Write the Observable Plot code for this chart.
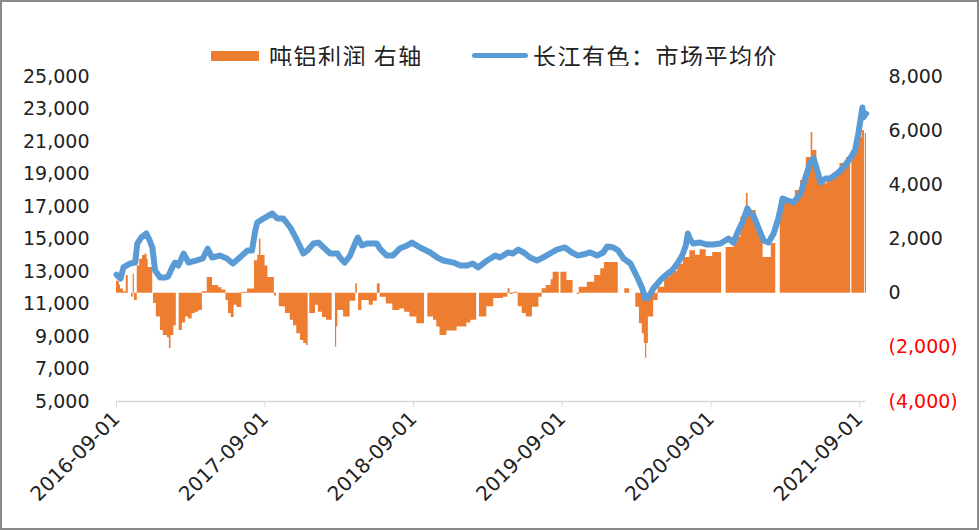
<!DOCTYPE html>
<html><head><meta charset="utf-8">
<script src="https://cdn.jsdelivr.net/npm/d3@7"></script>
<script src="https://cdn.jsdelivr.net/npm/@observablehq/plot@0.6"></script>
<style>
body{margin:0;background:#fff;}
#wrap{position:relative;width:979px;height:530px;overflow:hidden;background:#fff;}
#legend{position:absolute;left:0;top:0;width:979px;height:66px;}
.sw{position:absolute;}
.lt{position:absolute;font-family:"Noto Sans CJK SC",sans-serif;font-size:23px;line-height:23px;letter-spacing:1.5px;color:#222;white-space:nowrap;}
#chart{position:absolute;left:0;top:66px;}
#frame{position:absolute;left:0;top:0;width:979px;height:530px;box-sizing:border-box;border:2px solid #8a8a8a;pointer-events:none;}
</style></head>
<body>
<div id="wrap">
  <div id="legend"></div>
  <div id="chart"></div>
  <div id="frame"></div>
</div>
<script>
// ---- data ----
const seriesNames = ["吨铝利润 右轴", "长江有色：市场平均价"];
const seriesColors = ["#ED7D31", "#5B9BD5"];

const priceDates = ["2016-09-01","2016-09-11","2016-09-18","2016-10-05","2016-10-17","2016-10-22","2016-11-01","2016-11-13","2016-11-20","2016-11-28","2016-12-05","2016-12-17","2016-12-30",
"2017-01-06","2017-01-16","2017-01-23","2017-01-31","2017-02-13","2017-02-25","2017-03-17","2017-04-01","2017-04-13","2017-04-24","2017-05-13","2017-05-30","2017-06-14","2017-07-01","2017-07-20","2017-07-31","2017-08-08","2017-08-13","2017-08-28","2017-09-19","2017-10-01","2017-10-16","2017-11-02","2017-11-19","2017-12-04","2017-12-14","2017-12-29",
"2018-01-10","2018-01-23","2018-02-08","2018-02-26","2018-03-04","2018-03-16","2018-03-29","2018-04-10","2018-04-17","2018-04-27","2018-05-09","2018-06-03","2018-06-10","2018-06-27","2018-07-12","2018-07-29","2018-08-16","2018-08-28","2018-09-17","2018-10-12","2018-10-29","2018-11-13","2018-12-08","2018-12-25",
"2019-01-11","2019-01-24","2019-02-07","2019-03-01","2019-03-21","2019-04-01","2019-04-09","2019-04-21","2019-05-03","2019-05-16","2019-06-02","2019-06-14","2019-07-01","2019-07-16","2019-08-07","2019-08-19","2019-09-08","2019-09-25","2019-10-10","2019-11-01","2019-11-09","2019-11-26","2019-12-11","2019-12-21",
"2020-01-05","2020-01-17","2020-01-30","2020-02-16","2020-03-04","2020-03-16","2020-03-23","2020-03-31","2020-04-12","2020-04-29","2020-05-11","2020-05-28","2020-06-10","2020-06-22","2020-07-01","2020-07-06","2020-07-11","2020-07-19","2020-08-05","2020-08-22","2020-09-07","2020-09-24","2020-10-14","2020-10-26","2020-11-07","2020-11-19","2020-11-29","2020-12-07","2020-12-14","2020-12-26",
"2021-01-08","2021-01-20","2021-02-02","2021-02-14","2021-02-24","2021-03-08","2021-03-23","2021-04-09","2021-04-21","2021-05-03","2021-05-11","2021-05-20","2021-05-28","2021-06-09","2021-06-21","2021-07-08","2021-07-23","2021-08-09","2021-08-21","2021-08-29","2021-09-08","2021-09-10","2021-09-17"];
const priceValues = [12800,12570,13250,13500,13550,14720,15100,15340,15000,14480,13060,12630,12630,
12700,13250,13550,13370,14100,13550,13680,13800,14400,13860,13980,13800,13490,13860,14290,14290,15520,16020,16260,16570,16260,16260,15710,14910,14110,14290,14720,
14780,14480,14110,14110,13860,13550,13980,14720,15090,14600,14720,14720,14410,13980,13980,14410,14600,14780,14480,14170,13860,13680,13550,13370,
13370,13490,13250,13680,13980,13860,13980,14170,14110,14350,14110,13860,13680,13860,14170,14350,14480,14170,13980,14110,14170,13980,14170,14540,
14480,14290,13800,13490,12630,11950,11340,11400,11950,12450,12750,13060,13490,13980,14600,15340,15000,14720,14780,14660,14660,14720,15030,14780,15520,16140,16880,16570,16450,15710,
14910,14780,15340,16330,17490,17370,17250,17800,18790,19710,19960,19220,18480,18720,18720,19030,19400,19960,20450,21490,23090,22480,22720];

// [start date, profit]; each bar runs to the next start date
const profitSeries = [
["2016-09-01",440],["2016-09-08",300],["2016-09-11",150],["2016-09-18",50],["2016-09-25",650],["2016-09-30",0],
["2016-10-08",-150],["2016-10-12",700],["2016-10-15",-270],["2016-10-22",1000],["2016-10-28",1250],["2016-11-04",1390],
["2016-11-10",1450],["2016-11-15",1250],["2016-11-18",950],["2016-11-29",0],["2016-12-01",-380],["2016-12-08",-880],
["2016-12-18",-1380],["2016-12-25",-1560],["2017-01-04",-1650],["2017-01-09",-2040],["2017-01-13",-1560],["2017-01-20",-1200],
["2017-01-26",0],["2017-02-02",-1380],["2017-02-10",-1100],["2017-02-18",-880],["2017-02-25",-950],["2017-03-06",-750],
["2017-03-14",-700],["2017-03-22",-640],["2017-03-31",50],["2017-04-12",580],["2017-04-25",280],["2017-05-10",200],
["2017-05-18",120],["2017-05-28",-270],["2017-06-03",-750],["2017-06-10",-900],["2017-06-17",-450],["2017-06-24",-530],
["2017-07-06",30],["2017-07-20",150],["2017-08-06",1200],["2017-08-14",1400],["2017-08-18",2000],["2017-08-22",1390],
["2017-09-01",1000],["2017-09-08",580],["2017-09-24",-100],["2017-09-29",0],["2017-10-06",-500],["2017-10-21",-750],
["2017-11-02",-1000],["2017-11-10",-1200],["2017-11-18",-1500],["2017-11-27",-1750],["2017-12-05",-1860],["2017-12-12",-1930],
["2017-12-16",0],["2017-12-20",-750],["2018-01-03",-450],["2018-01-10",-700],["2018-01-20",-900],["2018-01-30",-1000],
["2018-02-13",0],["2018-02-21",-2000],["2018-02-24",-1250],["2018-02-27",-640],["2018-03-13",-880],["2018-03-29",-300],
["2018-04-12",350],["2018-04-16",0],["2018-04-19",-640],["2018-04-27",-270],["2018-05-15",-450],["2018-05-25",-300],
["2018-06-04",350],["2018-06-11",-150],["2018-06-26",-400],["2018-07-12",-640],["2018-07-29",-580],["2018-08-10",-700],
["2018-08-23",-880],["2018-09-09",-1130],["2018-09-28",0],["2018-10-06",-880],["2018-10-20",-1000],["2018-10-28",-1250],
["2018-11-05",-1560],["2018-11-22",-1400],["2018-12-17",-1250],["2019-01-10",-1100],["2019-01-20",-1000],["2019-02-03",0],
["2019-02-10",-880],["2019-02-28",-500],["2019-03-17",-200],["2019-04-10",-150],["2019-04-21",160],["2019-04-26",-50],
["2019-05-04",30],["2019-05-16",-500],["2019-05-26",-750],["2019-06-05",-880],["2019-06-20",-520],["2019-07-06",-150],
["2019-07-14",160],["2019-07-24",280],["2019-08-05",500],["2019-08-10",770],["2019-08-25",0],["2019-08-29",770],
["2019-09-13",470],["2019-09-28",0],["2019-10-08",-50],["2019-10-13",220],["2019-11-02",400],["2019-11-20",650],
["2019-12-05",900],["2019-12-14",1130],["2020-01-17",0],["2020-02-02",160],["2020-02-14",0],["2020-02-29",-520],
["2020-03-09",-1130],["2020-03-16",-1500],["2020-03-21",-1860],["2020-03-24",-2400],["2020-03-27",-1860],["2020-03-31",-880],
["2020-04-13",-270],["2020-04-24",220],["2020-05-10",600],["2020-05-25",800],["2020-06-11",1070],["2020-06-25",1320],
["2020-07-11",1570],["2020-07-25",1400],["2020-08-05",1600],["2020-08-20",1350],["2020-09-05",1500],["2020-09-27",0],
["2020-10-08",1690],["2020-10-28",2060],["2020-11-13",2800],["2020-11-27",3680],["2020-12-01",3050],["2020-12-21",2310],
["2021-01-07",1320],["2021-01-27",1830],["2021-02-07",0],["2021-02-18",3530],["2021-03-08",3400],["2021-03-27",3790],
["2021-04-09",4160],["2021-04-23",5010],["2021-05-05",5930],["2021-05-09",5270],["2021-05-19",4270],["2021-05-28",4040],
["2021-06-13",4230],["2021-06-29",4420],["2021-07-15",4790],["2021-07-31",5010],["2021-08-10",0],["2021-08-13",5270],
["2021-08-24",5750],["2021-09-07",6000],["2021-09-13",0],["2021-09-15",5900],["2021-09-18",5900]];

const leftTicks = [5000,7000,9000,11000,13000,15000,17000,19000,21000,23000,25000];
const rightTicks = [-4000,-2000,0,2000,4000,6000,8000];
const xTickDates = ["2016-09-01","2017-09-01","2018-09-01","2019-09-01","2020-09-01","2021-09-01"];
const xDomain = ["2016-09-01","2021-09-18"];
const leftDomain = [5000, 25000];
const rightDomain = [-4000, 8000];

// ---- build ----
const parse = s => new Date(s + "T00:00:00Z");
const price = priceDates.map((d, i) => ({date: parse(d), value: priceValues[i]}));
const profit = profitSeries.map(([d, v]) => ({date: parse(d), value: v}));
const toLeft = p => leftDomain[0] + (p - rightDomain[0]) * (leftDomain[1] - leftDomain[0]) / (rightDomain[1] - rightDomain[0]);
const fmt = d3.format(",");
const fmtRight = v => v < 0 ? `(${fmt(-v)})` : fmt(v);

// legend
const legend = document.getElementById("legend");
legend.innerHTML = `
  <div class="sw" style="left:211px;top:51px;width:48px;height:10px;background:${seriesColors[0]}"></div>
  <div class="lt" style="left:269px;top:44px">${seriesNames[0]}</div>
  <div class="sw" style="left:472px;top:53px;width:56px;height:5px;border-radius:3px;background:${seriesColors[1]}"></div>
  <div class="lt" style="left:533px;top:44px">${seriesNames[1]}</div>`;

const chart = Plot.plot({
  width: 979,
  height: 464,
  marginLeft: 116,
  marginRight: 113,
  marginTop: 10,
  marginBottom: 129,
  style: {fontFamily: "DejaVu Sans, sans-serif", fontSize: "19px", color: "#222", background: "#fff", overflow: "visible"},
  x: {type: "utc", domain: xDomain.map(parse)},
  y: {domain: leftDomain},
  marks: [
    Plot.area(profit, {x1: "date", y1: () => toLeft(0), y2: d => toLeft(d.value), fill: seriesColors[0], curve: "step-after"}),
    Plot.ruleY([leftDomain[0]], {stroke: "#d9d9d9", strokeWidth: 1.5}),
    Plot.line(price, {x: "date", y: "value", stroke: seriesColors[1], strokeWidth: 6, strokeLinejoin: "round", strokeLinecap: "round"}),
    Plot.axisY({ticks: leftTicks, tickSize: 0, tickPadding: 27, tickFormat: fmt, label: null}),
    Plot.text(rightTicks, {filter: d => d >= 0, y: d => toLeft(d), text: fmtRight, frameAnchor: "right", textAnchor: "start", dx: 22, fill: "#222"}),
    Plot.text(rightTicks, {filter: d => d < 0, y: d => toLeft(d), text: fmtRight, frameAnchor: "right", textAnchor: "start", dx: 22, fill: "#ff0000"}),
    Plot.axisX({ticks: xTickDates.map(parse), tickFormat: d3.utcFormat("%Y-%m-%d"), tickRotate: -45, tickSize: 6, tickPadding: 8, fontSize: 20, stroke: "#d9d9d9", fill: "#222", label: null})
  ]
});
document.getElementById("chart").appendChild(chart);
</script>
</body></html>
